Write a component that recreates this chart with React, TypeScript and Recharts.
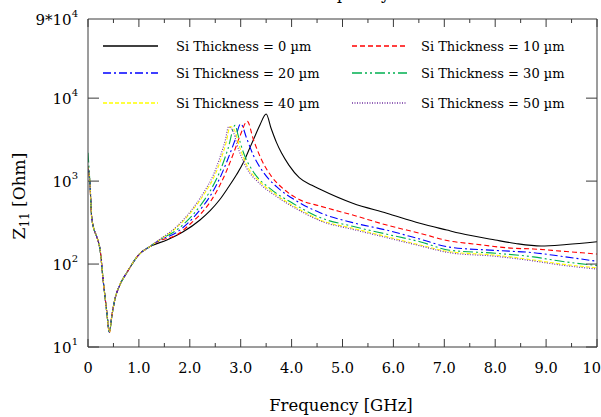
import React from 'react'
import { LineChart, Line, XAxis, YAxis } from 'recharts'

const serif = 'DejaVu Serif'
const axisColor = '#3a3a3a'

// legend / series styling
const thickness = ['0', '10', '20', '30', '40', '50']
const colors = ['#000000', '#ff0000', '#0000ff', '#00b050', '#ffff00', '#7030a0']
const dashes = ['', '5 3', '8 3 2 3', '10 3 2 3 2 3', '4 2', '1 1.5']

// axis ticks
const xTicks = [0, 0.5, 1, 1.5, 2, 2.5, 3, 3.5, 4, 4.5, 5, 5.5, 6, 6.5, 7, 7.5, 8, 8.5, 9, 9.5, 10]
const xMajor = [0, 1, 2, 3, 4, 5, 6, 7, 8, 9, 10]
const xMajorLabels = ['0', '1.0', '2.0', '3.0', '4.0', '5.0', '6.0', '7.0', '8.0', '9.0', '10']
const yTicks = [10, 100, 1000, 10000, 90000]
const yTickPrefix = ['', '', '', '', '9*']
const yTickExp = ['1', '2', '3', '4', '4']

// low band shared by every thickness (series resonance notch)
const lowFreq = [0.04, 0.07, 0.12, 0.17, 0.24, 0.3, 0.37, 0.42, 0.47, 0.53, 0.62, 0.77, 1.0, 1.2]
const lowZ = [900, 380, 260, 215, 145, 62, 26, 15, 24, 38, 55, 80, 130, 160]
const startZ = [1500, 1500, 1500, 2200, 1500, 1500]

// Si = 0 um
const f0 = [1.55, 1.87, 2.2, 2.4, 2.59, 2.75, 2.92, 3.05, 3.15, 3.25, 3.38, 3.5, 3.6, 3.7, 3.8, 3.95, 4.15, 4.4, 4.56, 5.2, 5.87, 6.52, 7.05, 7.31, 8.0, 8.4, 8.9, 9.4, 10]
const z0 = [195, 245, 340, 440, 600, 830, 1200, 1660, 2290, 3160, 4790, 6450, 4270, 2950, 2190, 1550, 1100, 890, 795, 540, 410, 310, 257, 235, 195, 177, 165, 172, 186]
// Si = 10 um
const f10 = [1.4, 1.74, 2.07, 2.25, 2.4, 2.59, 2.72, 2.85, 2.99, 3.13, 3.25, 3.4, 3.6, 3.85, 4.15, 4.56, 5.2, 5.87, 6.52, 7.1, 7.6, 8.35, 8.75, 9.3, 10]
const z10 = [190, 224, 330, 425, 560, 890, 1320, 2090, 3550, 5250, 3160, 1860, 1150, 795, 600, 500, 390, 295, 235, 190, 174, 155, 152, 143, 132]
// Si = 20 um
const f20 = [1.4, 1.74, 2.07, 2.25, 2.4, 2.6, 2.75, 2.88, 3.0, 3.12, 3.25, 3.44, 3.71, 4.1, 4.56, 5.2, 5.87, 6.52, 7.1, 8.0, 8.75, 9.3, 10]
const z20 = [193, 240, 363, 490, 660, 1120, 1860, 3020, 4900, 3240, 2040, 1290, 850, 575, 415, 316, 256, 200, 160, 146, 137, 124, 108]
// Si = 30 um
const f30 = [1.4, 1.74, 2.07, 2.25, 2.4, 2.6, 2.75, 2.89, 2.95, 3.05, 3.25, 3.58, 4.03, 4.56, 5.2, 5.87, 6.52, 7.1, 8.0, 8.75, 9.3, 10]
const z30 = [194, 257, 398, 550, 760, 1350, 2450, 4700, 3550, 2240, 1290, 810, 537, 363, 285, 229, 186, 147, 135, 122, 108, 96]
// Si = 40 um
const f40 = [1.4, 1.74, 2.07, 2.3, 2.46, 2.6, 2.72, 2.79, 2.86, 2.99, 3.12, 3.38, 3.71, 4.23, 4.56, 5.2, 5.87, 6.52, 7.1, 8.0, 8.75, 9.3, 10]
const z40 = [195, 275, 457, 725, 1070, 1740, 3020, 4560, 4300, 2460, 1550, 980, 675, 430, 340, 270, 214, 170, 141, 128, 112, 100, 90]
// Si = 50 um
const f50 = [1.4, 1.74, 2.07, 2.3, 2.46, 2.6, 2.7, 2.76, 2.83, 2.96, 3.1, 3.36, 3.7, 4.23, 4.56, 5.2, 5.87, 6.52, 7.1, 8.0, 8.75, 9.3, 10]
const z50 = [197, 282, 479, 776, 1175, 1995, 3160, 4500, 4200, 2400, 1500, 950, 655, 417, 332, 262, 208, 166, 137, 124, 109, 97, 87]

const highFreq = [f0, f10, f20, f30, f40, f50]
const highZ = [z0, z10, z20, z30, z40, z50]

const series = thickness.map((_, i) => [
  { f: 0, z: startZ[i] },
  ...lowFreq.map((f, j) => ({ f, z: lowZ[j] })),
  ...highFreq[i].map((f, j) => ({ f, z: highZ[i][j] })),
])

const BottomTick = (props: any) => {
  const { x, y, payload } = props
  const k = xMajor.indexOf(payload.value)
  const last = k === xMajor.length - 1
  return (
    <g>
      <line x1={x} y1={y} x2={x} y2={y - (k >= 0 ? 8 : 4)} stroke={axisColor} />
      {k >= 0 && (
        <text
          x={last ? 601 : x}
          y={y + 26}
          textAnchor={last ? 'end' : 'middle'}
          fontSize={14.5}
          fontFamily={serif}
          fill="#000"
        >
          {xMajorLabels[k]}
        </text>
      )}
    </g>
  )
}

const TopTick = (props: any) => {
  const { x, y, payload } = props
  const major = xMajor.indexOf(payload.value) >= 0
  return <line x1={x} y1={y} x2={x} y2={y + (major ? 8 : 4)} stroke={axisColor} />
}

const LeftTick = (props: any) => {
  const { x, y, payload } = props
  const k = yTicks.indexOf(payload.value)
  return (
    <g>
      {k < 4 && <line x1={x} y1={y} x2={x + 11} y2={y} stroke={axisColor} />}
      <text x={x - 10} y={y + 6} textAnchor="end" fontSize={15} fontFamily={serif} fill="#000">
        <tspan>{yTickPrefix[k]}10</tspan>
        <tspan dy={-8} fontSize={10}>{yTickExp[k]}</tspan>
      </text>
    </g>
  )
}

const RightTick = (props: any) => {
  const { x, y, payload } = props
  if (payload.value === 90000) return <g />
  return <line x1={x} y1={y} x2={x - 11} y2={y} stroke={axisColor} />
}

const YLabel = () => (
  <text x={25} y={196} transform="rotate(-90, 25, 196)" textAnchor="middle" fontSize={17} fontFamily={serif} fill="#000">
    <tspan>Z</tspan>
    <tspan dy={4} fontSize={12}>11</tspan>
    <tspan dy={-4}> [Ohm]</tspan>
  </text>
)

const XLabel = () => (
  <text x={341} y={411} textAnchor="middle" fontSize={16.5} fontFamily={serif} fill="#000">
    Frequency [GHz]
  </text>
)

const legendRowY = [46, 73, 103]
const legendLineX = [103, 352]
const legendTextX = [176, 421]

export default function App() {
  return (
    <div style={{ position: 'absolute', left: 0, top: 0, width: 601, height: 417, background: '#fff' }}>
      <LineChart width={601} height={417} margin={{ top: 0, right: 0, bottom: 0, left: 0 }}>
        <XAxis
          type="number"
          dataKey="f"
          domain={[0, 10]}
          ticks={xTicks}
          interval={0}
          allowDataOverflow
          height={70}
          tickSize={0}
          tickMargin={0}
          tickLine={false}
          tick={<BottomTick />}
          axisLine={{ stroke: axisColor }}
          label={<XLabel />}
        />
        <XAxis
          xAxisId="top"
          orientation="top"
          type="number"
          dataKey="f"
          domain={[0, 10]}
          ticks={xTicks}
          interval={0}
          allowDataOverflow
          height={19}
          tickSize={0}
          tickMargin={0}
          tickLine={false}
          tick={<TopTick />}
          axisLine={{ stroke: axisColor }}
        />
        <YAxis
          type="number"
          scale="log"
          domain={[10, 90000]}
          ticks={yTicks}
          interval={0}
          allowDataOverflow
          width={88}
          tickSize={0}
          tickMargin={0}
          tickLine={false}
          tick={<LeftTick />}
          axisLine={{ stroke: axisColor }}
          label={<YLabel />}
        />
        <YAxis
          yAxisId="right"
          orientation="right"
          type="number"
          scale="log"
          domain={[10, 90000]}
          ticks={yTicks}
          interval={0}
          allowDataOverflow
          width={4}
          tickSize={0}
          tickMargin={0}
          tickLine={false}
          tick={<RightTick />}
          axisLine={{ stroke: axisColor }}
        />
        {series.map((pts, i) => (
          <Line
            key={thickness[i]}
            data={pts}
            dataKey="z"
            type="monotone"
            stroke={colors[i]}
            strokeWidth={1.1}
            strokeDasharray={dashes[i] || undefined}
            dot={false}
            activeDot={false}
            isAnimationActive={false}
          />
        ))}
      </LineChart>
      <svg width={601} height={417} style={{ position: 'absolute', left: 0, top: 0, pointerEvents: 'none', overflow: 'visible' }}>
        <text x={390} y={-1} textAnchor="end" fontSize={16} fontFamily={serif} fill="#000">Z11 vs Frequency</text>
        {thickness.map((t, i) => {
          const col = i % 2
          const y = legendRowY[Math.floor(i / 2)]
          return (
            <g key={t}>
              <line
                x1={legendLineX[col]}
                x2={legendLineX[col] + 55}
                y1={y}
                y2={y}
                stroke={colors[i]}
                strokeWidth={1.3}
                strokeDasharray={dashes[i] || undefined}
              />
              <text x={legendTextX[col]} y={y + 5} fontSize={13} fontFamily={serif} fill="#000">
                {`Si Thickness = ${t} \u00b5m`}
              </text>
            </g>
          )
        })}
      </svg>
    </div>
  )
}
